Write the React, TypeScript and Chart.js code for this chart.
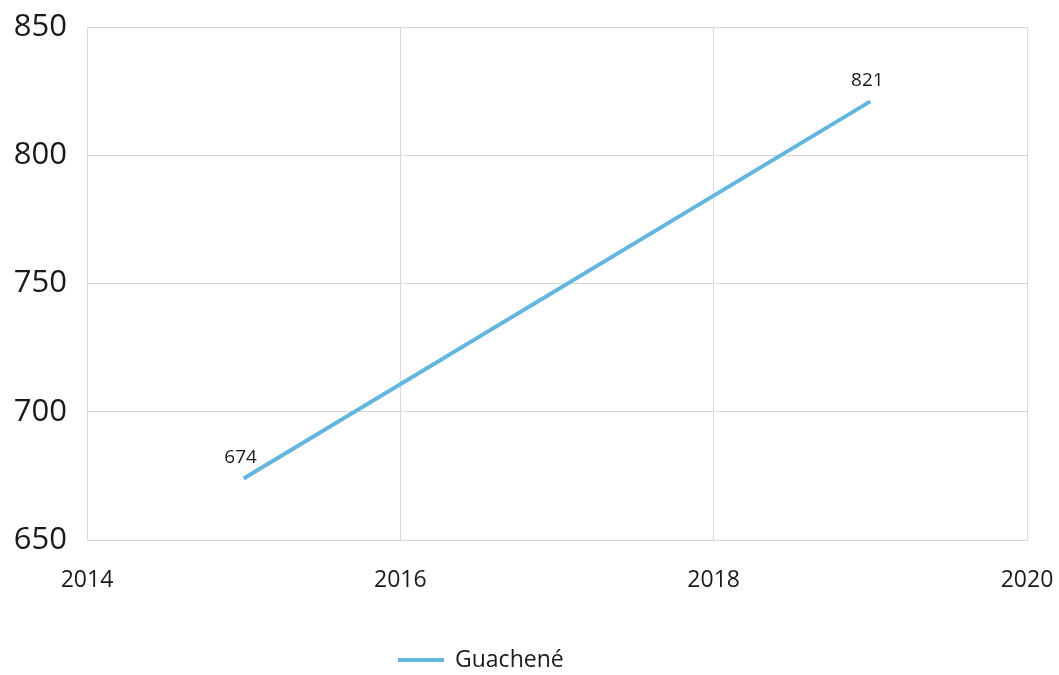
import React, { useEffect, useRef } from "react";
import { Chart, registerables } from "chart.js";

Chart.register(...registerables);

const seriesName = "Guachené";
const years = [2015, 2019];
const values = [674, 821];
const xTicks = [2014, 2016, 2018, 2020];
const yMin = 650;
const yMax = 850;

const FONT = "'Open Sans', 'Noto Sans', sans-serif";
const LINE_COLOR = "#64b6df";
const TEXT = "#1a1a1a";

const labelPlugin = {
  id: "pointLabels",
  afterDatasetsDraw(chart: any) {
    const ctx = chart.ctx;
    const meta = chart.getDatasetMeta(0);
    ctx.save();
    ctx.font = `19px ${FONT}`;
    ctx.fillStyle = TEXT;
    ctx.textAlign = "center";
    ctx.textBaseline = "middle";
    meta.data.forEach((pt: any, i: number) => {
      ctx.fillText(String(values[i]), pt.x - 3, pt.y - 21);
    });
    ctx.restore();
  },
};

const legendPlugin = {
  id: "customLegend",
  afterDraw(chart: any) {
    const ctx = chart.ctx;
    const ds = chart.data.datasets[0];
    ctx.save();
    ctx.strokeStyle = ds.borderColor;
    ctx.lineWidth = 4;
    ctx.beginPath();
    ctx.moveTo(398, 660);
    ctx.lineTo(444, 660);
    ctx.stroke();
    ctx.font = `23px ${FONT}`;
    ctx.fillStyle = TEXT;
    ctx.textAlign = "left";
    ctx.textBaseline = "middle";
    ctx.fillText(ds.label, 455, 660);
    ctx.restore();
  },
};

export default function App() {
  const ref = useRef<HTMLCanvasElement>(null);
  useEffect(() => {
    document.body.style.margin = "0";
    const chart = new Chart(ref.current!, {
      type: "line",
      data: {
        datasets: [
          {
            label: seriesName,
            data: years.map((y, i) => ({ x: y, y: values[i] })),
            borderColor: LINE_COLOR,
            backgroundColor: LINE_COLOR,
            borderWidth: 4,
            pointRadius: 0,
            tension: 0,
          },
        ],
      },
      options: {
        animation: false,
        responsive: false,
        layout: { padding: { top: 27, right: 32, left: 10, bottom: 0 } },
        scales: {
          x: {
            type: "linear",
            min: 2014,
            max: 2020,
            afterBuildTicks: (axis: any) => {
              axis.ticks = xTicks.map((v) => ({ value: v }));
            },
            ticks: {
              font: { family: FONT, size: 23 },
              color: TEXT,
              padding: 27,
              maxRotation: 0,
              callback: (v: any) => String(v),
            },
            grid: { color: "#d9d9d9", drawTicks: false, lineWidth: 1 },
            border: { color: "#d9d9d9" },
            afterFit: (axis: any) => {
              axis.height = 135;
              axis.paddingLeft = 0;
              axis.paddingRight = 0;
            },
          },
          y: {
            min: yMin,
            max: yMax,
            ticks: {
              stepSize: 50,
              font: { family: FONT, size: 31 },
              color: TEXT,
              padding: 20,
            },
            grid: { color: "#d9d9d9", drawTicks: false, lineWidth: 1 },
            border: { color: "#d9d9d9" },
            afterFit: (axis: any) => {
              axis.width = 77;
              axis.paddingTop = 0;
              axis.paddingBottom = 0;
            },
          },
        },
        plugins: {
          legend: { display: false },
          tooltip: { enabled: false },
        },
      },
      plugins: [
        labelPlugin,
        legendPlugin,
        {
          id: "frame",
          afterDraw(chart: any) {
            const { ctx, chartArea } = chart;
            ctx.save();
            ctx.strokeStyle = "#d9d9d9";
            ctx.lineWidth = 1;
            ctx.beginPath();
            ctx.moveTo(chartArea.left, chartArea.top + 0.5);
            ctx.lineTo(chartArea.right + 0.5, chartArea.top + 0.5);
            ctx.lineTo(chartArea.right + 0.5, chartArea.bottom);
            ctx.stroke();
            ctx.restore();
          },
        },
      ],
    } as any);
    return () => chart.destroy();
  }, []);
  return (
    <div style={{ position: "fixed", left: 0, top: 0, width: 1059, height: 675, background: "#fff" }}>
      <canvas ref={ref} width={1059} height={675} />
    </div>
  );
}
